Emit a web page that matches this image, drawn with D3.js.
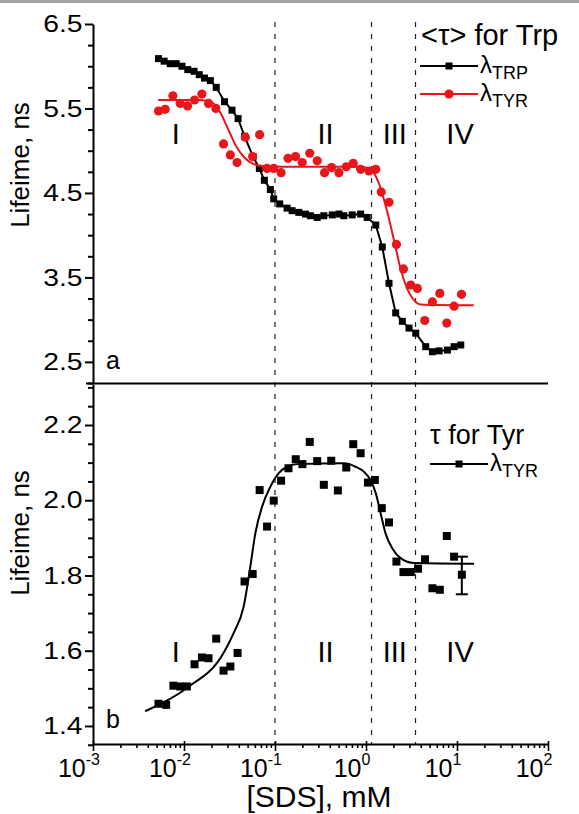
<!DOCTYPE html>
<html>
<head>
<meta charset="utf-8">
<script src="https://cdn.jsdelivr.net/npm/d3@7"></script>
<style>
  body { margin: 0; background: #fff; }
  text { font-family: "Liberation Sans", Arial, sans-serif; fill: #000; }
</style>
</head>
<body>
<svg id="chart" width="579" height="814"></svg>
<script>
// ---- data ----
// panel a, Trp lifetime (black squares, joined)
const trpSDS = [0.00524, 0.00605, 0.00705, 0.0082, 0.0095, 0.0110, 0.0129, 0.0147, 0.0168, 0.0195,
  0.0226, 0.0279, 0.0337, 0.0393, 0.0463, 0.0574, 0.0673, 0.0764, 0.0889, 0.0968,
  0.1127, 0.1358, 0.1542, 0.1824, 0.216, 0.245, 0.291, 0.344, 0.426, 0.504,
  0.571, 0.706, 0.873, 1.03, 1.28, 1.51, 1.79, 2.12, 2.51, 2.97,
  3.52, 4.53, 5.37, 6.35, 7.85, 9.29, 11.0];
const trpLife = [6.09, 6.06, 6.03, 6.03, 6.00, 5.96, 5.94, 5.90, 5.86, 5.83,
  5.75, 5.58, 5.48, 5.38, 5.17, 4.93, 4.79, 4.65, 4.54, 4.43,
  4.37, 4.32, 4.29, 4.27, 4.25, 4.23, 4.21, 4.23, 4.24, 4.25,
  4.23, 4.24, 4.25, 4.21, 4.12, 3.86, 3.43, 3.08, 2.98, 2.90,
  2.84, 2.68, 2.62, 2.63, 2.64, 2.68, 2.70];

// panel a, Tyr-excited lifetime (red circles) and its fit
const tyrSDS = [0.00524, 0.00621, 0.00755, 0.00908, 0.01094, 0.01306, 0.01574, 0.0186, 0.0224, 0.0272,
  0.0323, 0.0383, 0.0472, 0.0568, 0.0678, 0.0818, 0.0968, 0.1167, 0.139, 0.168,
  0.199, 0.241, 0.291, 0.350, 0.418, 0.504, 0.607, 0.724, 0.873, 1.08,
  1.28, 1.47, 1.79, 2.16, 2.58, 3.10, 3.67, 4.42, 5.37, 6.47,
  7.72, 9.29, 11.2];
const tyrLife = [5.47, 5.49, 5.65, 5.56, 5.53, 5.60, 5.67, 5.56, 5.50, 5.08,
  4.95, 4.86, 5.16, 4.93, 5.19, 4.79, 4.79, 4.74, 4.91, 4.93,
  4.86, 4.97, 4.88, 4.74, 4.80, 4.74, 4.81, 4.85, 4.78, 4.76,
  4.78, 4.51, 4.39, 3.89, 3.60, 3.41, 3.37, 2.99, 3.21, 3.31,
  2.96, 3.16, 3.30];
const tyrFitSDS = [0.0052, 0.0151, 0.0205, 0.0251, 0.0307, 0.0376, 0.046, 0.0564, 0.0727, 0.19,
  0.87, 1.12, 1.38, 1.69, 2.07, 2.40, 2.80, 3.26, 3.99, 15.3];
const tyrFitLife = [5.60, 5.60, 5.57, 5.45, 5.25, 5.05, 4.92, 4.85, 4.82, 4.81,
  4.81, 4.78, 4.62, 4.30, 3.90, 3.60, 3.38, 3.25, 3.18, 3.17];

// panel b, Tyr lifetime (black squares) and its fit
const tauSDS = [0.00524, 0.00637, 0.00765, 0.00908, 0.01076, 0.01306, 0.01574, 0.0186, 0.0226, 0.0272,
  0.0323, 0.0388, 0.0463, 0.0568, 0.0678, 0.0818, 0.0968, 0.1167, 0.1406, 0.169,
  0.200, 0.241, 0.291, 0.344, 0.415, 0.491, 0.607, 0.724, 0.873, 1.05,
  1.25, 1.49, 1.79, 2.16, 2.58, 3.10, 3.73, 4.45, 5.37, 6.47,
  7.72, 9.29, 11.3];
const tauLife = [1.459, 1.456, 1.507, 1.505, 1.505, 1.564, 1.582, 1.580, 1.632, 1.547,
  1.558, 1.594, 1.784, 1.804, 2.027, 1.930, 1.999, 2.052, 2.085, 2.109,
  2.096, 2.155, 2.104, 2.041, 2.105, 2.026, 2.087, 2.149, 2.125, 2.047,
  2.054, 1.979, 1.941, 1.837, 1.809, 1.809, 1.818, 1.843, 1.766, 1.762,
  1.905, 1.850, 1.802];
const tauErr = [{ sds: 11.3, lo: 1.750, hi: 1.850 }];
const tauFitSDS = [0.00374, 0.01076, 0.0272, 0.0351, 0.0452, 0.0536, 0.0608, 0.0721, 0.0889, 0.110,
  0.1358, 0.175, 0.571, 0.767, 0.948, 1.12, 1.28, 1.45, 1.64, 1.95,
  2.40, 3.37, 15.4];
const tauFitLife = [1.439, 1.501, 1.594, 1.647, 1.717, 1.824, 1.912, 1.983, 2.036, 2.072,
  2.089, 2.096, 2.098, 2.089, 2.076, 2.054, 2.019, 1.965, 1.912, 1.872,
  1.846, 1.833, 1.831];

// axis ticks
const tickA = d3.range(2.25, 6.51, 0.25);
const labelA = [2.5, 3.5, 4.5, 5.5, 6.5];
const tickB = d3.range(1.35, 2.31, 0.05);
const labelB = [1.4, 1.6, 1.8, 2.0, 2.2];

// region borders and labels
const borderSDS = [0.1, 1.15, 3.5];
const regionNames = ['I', 'II', 'III', 'IV'];
const regionSDS = [0.0081, 0.36, 2.07, 10.8];

// ---- layout ----
const W = 579, H = 814;
const red = '#e8161b';
const svg = d3.select('#chart');

svg.append('rect').attr('width', W).attr('height', 3).attr('fill', '#a3a3a3');

const x = d3.scaleLog().domain([1e-3, 1e2]).range([93, 548]);
const yA = d3.scaleLinear().domain([2.25, 6.5]).range([383, 24]);
const yB = d3.scaleLinear().domain([1.352, 2.309]).range([744, 384]);

// dashed region borders through both panels
svg.selectAll('.border')
  .data(borderSDS)
  .join('line')
  .attr('class', 'border')
  .attr('x1', d => x(d)).attr('x2', d => x(d))
  .attr('y1', 22).attr('y2', 744)
  .attr('stroke', '#222')
  .attr('stroke-width', 1.2)
  .attr('stroke-dasharray', '5,7');

const near = (a, b) => Math.abs(a - b) < 1e-6;

// left axes
function leftAxis(scale, ticks, labels) {
  const isMajor = d => labels.some(l => near(l, d));
  const g = svg.append('g').attr('transform', 'translate(93,0)');
  g.call(d3.axisLeft(scale).tickValues(ticks).tickSize(5).tickSizeOuter(0)
    .tickFormat(d => isMajor(d) ? d3.format('.1f')(d) : ''));
  g.select('.domain').attr('stroke', '#000').attr('stroke-width', 2);
  g.selectAll('.tick line').attr('stroke', '#000').attr('stroke-width', 2)
    .attr('x2', d => isMajor(d) ? -8 : -5);
  g.selectAll('.tick text')
    .style('font-size', '24px')
    .attr('x', -10.5 / 1.18)
    .attr('transform', 'scale(1.18,1)');
  return g;
}
leftAxis(yA, tickA, labelA);
leftAxis(yB, tickB, labelB);

// separator between panels
svg.append('line').attr('x1', 86).attr('x2', 548).attr('y1', 383.5).attr('y2', 383.5)
  .attr('stroke', '#000').attr('stroke-width', 2);

// bottom x axis
const xTicks = x.ticks();
const isDecade = d => near(Math.log10(d), Math.round(Math.log10(d)));
const gx = svg.append('g').attr('transform', 'translate(0,744)');
gx.call(d3.axisBottom(x).tickValues(xTicks).tickSize(4).tickSizeOuter(0).tickFormat(''));
gx.select('.domain').attr('stroke', '#000').attr('stroke-width', 2);
gx.selectAll('.tick line').attr('stroke', '#000').attr('stroke-width', 1.6)
  .attr('y1', d => isDecade(d) ? -3 : 0)
  .attr('y2', d => isDecade(d) ? 7 : 4);
const xLab = gx.selectAll('.xlab')
  .data(xTicks.filter(isDecade))
  .join('text')
  .attr('class', 'xlab')
  .attr('x', d => x(d) - 14)
  .attr('y', 33)
  .style('font-size', '25px');
xLab.append('tspan').text('10');
xLab.append('tspan').attr('dy', -12).style('font-size', '16px')
  .text(d => Math.round(Math.log10(d)));

// axis titles
svg.append('text').attr('text-anchor', 'middle').attr('transform', 'translate(319,807)')
  .style('font-size', '30px').text('[SDS], mM');
[[yA, 165], [yB, 533]].forEach(([s, cy]) => {
  svg.append('text').attr('text-anchor', 'middle')
    .attr('transform', `translate(29,${cy}) rotate(-90)`)
    .style('font-size', '26px').text('Lifeime, ns');
});

// panel letters
svg.append('text').attr('x', 106).attr('y', 369).style('font-size', '25px').text('a');
svg.append('text').attr('x', 106).attr('y', 728).style('font-size', '25px').text('b');

// region numerals
[[yA, 5.08, 'regA'], [yB, 1.57, 'regB']].forEach(([s, v, cls]) => {
  svg.selectAll('.' + cls)
    .data(regionNames)
    .join('text')
    .attr('class', cls)
    .attr('text-anchor', 'middle')
    .attr('x', (d, i) => x(regionSDS[i]))
    .attr('y', s(v))
    .style('font-size', '29px')
    .text(d => d);
});

// ---- panel a series ----
const trp = trpSDS.map((s, i) => ({ s, v: trpLife[i] }));
const tyr = tyrSDS.map((s, i) => ({ s, v: tyrLife[i] }));
const tyrFit = tyrFitSDS.map((s, i) => ({ s, v: tyrFitLife[i] }));

const lineA = d3.line().x(d => x(d.s)).y(d => yA(d.v));
const fitA = d3.line().x(d => x(d.s)).y(d => yA(d.v)).curve(d3.curveMonotoneX);

svg.append('path').datum(trp).attr('d', lineA)
  .attr('fill', 'none').attr('stroke', '#000').attr('stroke-width', 2);
svg.selectAll('.trp')
  .data(trp)
  .join('rect')
  .attr('class', 'trp')
  .attr('x', d => x(d.s) - 3.5).attr('y', d => yA(d.v) - 3.5)
  .attr('width', 7).attr('height', 7)
  .attr('fill', '#000');

svg.append('path').datum(tyrFit).attr('d', fitA)
  .attr('fill', 'none').attr('stroke', red).attr('stroke-width', 2);
svg.selectAll('.tyr')
  .data(tyr)
  .join('circle')
  .attr('class', 'tyr')
  .attr('cx', d => x(d.s)).attr('cy', d => yA(d.v))
  .attr('r', 4.6)
  .attr('fill', red);

// ---- panel b series ----
const tau = tauSDS.map((s, i) => ({ s, v: tauLife[i] }));
const tauFit = tauFitSDS.map((s, i) => ({ s, v: tauFitLife[i] }));
const fitB = d3.line().x(d => x(d.s)).y(d => yB(d.v)).curve(d3.curveMonotoneX);

svg.append('path').datum(tauFit).attr('d', fitB)
  .attr('fill', 'none').attr('stroke', '#000').attr('stroke-width', 2);
svg.selectAll('.tau')
  .data(tau)
  .join('rect')
  .attr('class', 'tau')
  .attr('x', d => x(d.s) - 4).attr('y', d => yB(d.v) - 4)
  .attr('width', 8).attr('height', 8)
  .attr('fill', '#000');

const eb = svg.selectAll('.err').data(tauErr).join('g').attr('class', 'err')
  .attr('stroke', '#000').attr('stroke-width', 2);
eb.append('line').attr('x1', d => x(d.sds)).attr('x2', d => x(d.sds))
  .attr('y1', d => yB(d.lo)).attr('y2', d => yB(d.hi));
eb.append('line').attr('x1', d => x(d.sds) - 6).attr('x2', d => x(d.sds) + 6)
  .attr('y1', d => yB(d.lo)).attr('y2', d => yB(d.lo));
eb.append('line').attr('x1', d => x(d.sds) - 6).attr('x2', d => x(d.sds) + 6)
  .attr('y1', d => yB(d.hi)).attr('y2', d => yB(d.hi));

// ---- legends ----
function legendItem(lx, ly, color, shape, sub) {
  svg.append('line').attr('x1', lx).attr('x2', lx + 58).attr('y1', ly).attr('y2', ly)
    .attr('stroke', color).attr('stroke-width', 2);
  if (shape === 'square') {
    svg.append('rect').attr('x', lx + 25.5).attr('y', ly - 3.5).attr('width', 7).attr('height', 7).attr('fill', color);
  } else {
    svg.append('circle').attr('cx', lx + 29).attr('cy', ly).attr('r', 4.6).attr('fill', color);
  }
  const t = svg.append('text').attr('x', lx + 60).attr('y', ly + 7).style('font-size', '24px');
  t.append('tspan').text('λ');
  t.append('tspan').attr('dy', 6).style('font-size', '18px').text(sub);
}
svg.append('text').attr('x', 421).attr('y', 45).style('font-size', '29px').text('<τ> for Trp');
legendItem(420, 66, '#000', 'square', 'TRP');
legendItem(420, 94, red, 'circle', 'TYR');

svg.append('text').attr('x', 430).attr('y', 444).style('font-size', '27px').text('τ for Tyr');
legendItem(430, 464, '#000', 'square', 'TYR');
</script>
</body>
</html>
